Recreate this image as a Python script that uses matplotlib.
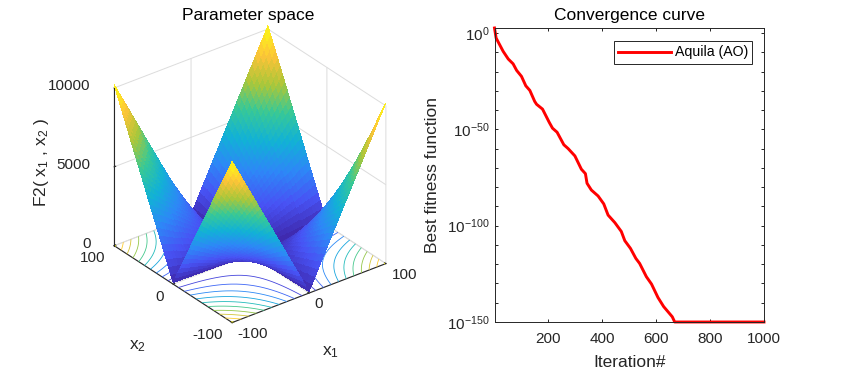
import numpy as np
import matplotlib
matplotlib.use("Agg")
import matplotlib.pyplot as plt
from matplotlib.colors import LinearSegmentedColormap
from mpl_toolkits.mplot3d import Axes3D  # noqa: F401

# Surface heights on one quadrant: |x1|, |x2| = 0, 4, ..., 100 (the other quadrants mirror it)
quadrant_axis = [0, 4, 8, 12, 16, 20, 24, 28, 32, 36, 40, 44, 48, 52, 56, 60, 64, 68, 72, 76, 80, 84, 88, 92, 96, 100]
quadrant_z = [
    [0, 4, 8, 12, 16, 20, 24, 28, 32, 36, 40, 44, 48, 52, 56, 60, 64, 68, 72, 76, 80, 84, 88, 92, 96, 100],
    [4, 24, 44, 64, 84, 104, 124, 144, 164, 184, 204, 224, 244, 264, 284, 304, 324, 344, 364, 384, 404, 424, 444, 464, 484, 504],
    [8, 44, 80, 116, 152, 188, 224, 260, 296, 332, 368, 404, 440, 476, 512, 548, 584, 620, 656, 692, 728, 764, 800, 836, 872, 908],
    [12, 64, 116, 168, 220, 272, 324, 376, 428, 480, 532, 584, 636, 688, 740, 792, 844, 896, 948, 1000, 1052, 1104, 1156, 1208, 1260, 1312],
    [16, 84, 152, 220, 288, 356, 424, 492, 560, 628, 696, 764, 832, 900, 968, 1036, 1104, 1172, 1240, 1308, 1376, 1444, 1512, 1580, 1648, 1716],
    [20, 104, 188, 272, 356, 440, 524, 608, 692, 776, 860, 944, 1028, 1112, 1196, 1280, 1364, 1448, 1532, 1616, 1700, 1784, 1868, 1952, 2036, 2120],
    [24, 124, 224, 324, 424, 524, 624, 724, 824, 924, 1024, 1124, 1224, 1324, 1424, 1524, 1624, 1724, 1824, 1924, 2024, 2124, 2224, 2324, 2424, 2524],
    [28, 144, 260, 376, 492, 608, 724, 840, 956, 1072, 1188, 1304, 1420, 1536, 1652, 1768, 1884, 2000, 2116, 2232, 2348, 2464, 2580, 2696, 2812, 2928],
    [32, 164, 296, 428, 560, 692, 824, 956, 1088, 1220, 1352, 1484, 1616, 1748, 1880, 2012, 2144, 2276, 2408, 2540, 2672, 2804, 2936, 3068, 3200, 3332],
    [36, 184, 332, 480, 628, 776, 924, 1072, 1220, 1368, 1516, 1664, 1812, 1960, 2108, 2256, 2404, 2552, 2700, 2848, 2996, 3144, 3292, 3440, 3588, 3736],
    [40, 204, 368, 532, 696, 860, 1024, 1188, 1352, 1516, 1680, 1844, 2008, 2172, 2336, 2500, 2664, 2828, 2992, 3156, 3320, 3484, 3648, 3812, 3976, 4140],
    [44, 224, 404, 584, 764, 944, 1124, 1304, 1484, 1664, 1844, 2024, 2204, 2384, 2564, 2744, 2924, 3104, 3284, 3464, 3644, 3824, 4004, 4184, 4364, 4544],
    [48, 244, 440, 636, 832, 1028, 1224, 1420, 1616, 1812, 2008, 2204, 2400, 2596, 2792, 2988, 3184, 3380, 3576, 3772, 3968, 4164, 4360, 4556, 4752, 4948],
    [52, 264, 476, 688, 900, 1112, 1324, 1536, 1748, 1960, 2172, 2384, 2596, 2808, 3020, 3232, 3444, 3656, 3868, 4080, 4292, 4504, 4716, 4928, 5140, 5352],
    [56, 284, 512, 740, 968, 1196, 1424, 1652, 1880, 2108, 2336, 2564, 2792, 3020, 3248, 3476, 3704, 3932, 4160, 4388, 4616, 4844, 5072, 5300, 5528, 5756],
    [60, 304, 548, 792, 1036, 1280, 1524, 1768, 2012, 2256, 2500, 2744, 2988, 3232, 3476, 3720, 3964, 4208, 4452, 4696, 4940, 5184, 5428, 5672, 5916, 6160],
    [64, 324, 584, 844, 1104, 1364, 1624, 1884, 2144, 2404, 2664, 2924, 3184, 3444, 3704, 3964, 4224, 4484, 4744, 5004, 5264, 5524, 5784, 6044, 6304, 6564],
    [68, 344, 620, 896, 1172, 1448, 1724, 2000, 2276, 2552, 2828, 3104, 3380, 3656, 3932, 4208, 4484, 4760, 5036, 5312, 5588, 5864, 6140, 6416, 6692, 6968],
    [72, 364, 656, 948, 1240, 1532, 1824, 2116, 2408, 2700, 2992, 3284, 3576, 3868, 4160, 4452, 4744, 5036, 5328, 5620, 5912, 6204, 6496, 6788, 7080, 7372],
    [76, 384, 692, 1000, 1308, 1616, 1924, 2232, 2540, 2848, 3156, 3464, 3772, 4080, 4388, 4696, 5004, 5312, 5620, 5928, 6236, 6544, 6852, 7160, 7468, 7776],
    [80, 404, 728, 1052, 1376, 1700, 2024, 2348, 2672, 2996, 3320, 3644, 3968, 4292, 4616, 4940, 5264, 5588, 5912, 6236, 6560, 6884, 7208, 7532, 7856, 8180],
    [84, 424, 764, 1104, 1444, 1784, 2124, 2464, 2804, 3144, 3484, 3824, 4164, 4504, 4844, 5184, 5524, 5864, 6204, 6544, 6884, 7224, 7564, 7904, 8244, 8584],
    [88, 444, 800, 1156, 1512, 1868, 2224, 2580, 2936, 3292, 3648, 4004, 4360, 4716, 5072, 5428, 5784, 6140, 6496, 6852, 7208, 7564, 7920, 8276, 8632, 8988],
    [92, 464, 836, 1208, 1580, 1952, 2324, 2696, 3068, 3440, 3812, 4184, 4556, 4928, 5300, 5672, 6044, 6416, 6788, 7160, 7532, 7904, 8276, 8648, 9020, 9392],
    [96, 484, 872, 1260, 1648, 2036, 2424, 2812, 3200, 3588, 3976, 4364, 4752, 5140, 5528, 5916, 6304, 6692, 7080, 7468, 7856, 8244, 8632, 9020, 9408, 9796],
    [100, 504, 908, 1312, 1716, 2120, 2524, 2928, 3332, 3736, 4140, 4544, 4948, 5352, 5756, 6160, 6564, 6968, 7372, 7776, 8180, 8584, 8988, 9392, 9796, 10200],
]
contour_levels = [1000, 2000, 3000, 4000, 5000, 6000, 7000, 8000, 9000, 10000]
xy_ticks = [-100, 0, 100]
z_ticks = [0, 5000, 10000]

# Convergence curve
iterations = [1, 7, 33, 52, 70, 83, 101, 117, 132, 150, 157, 179, 204, 216, 233, 258, 274, 299, 323, 338,
              344, 360, 385, 406, 422, 447, 471, 484, 505, 525, 539, 564, 583, 607, 628, 660, 669, 1000]
log10_fitness = [2.6, -2.6, -9.5, -13.5, -16, -19.4, -22.5, -27.4, -29.8, -35.5, -37, -39.5, -46.4, -49.4,
                 -51.5, -58, -60, -63.8, -70.7, -73, -78, -81.5, -84.6, -88.7, -94.5, -98.4, -103, -107.8,
                 -111.8, -117, -119.6, -126.5, -130.3, -137.3, -142, -147.3, -150, -150]
iter_ticks = [200, 400, 600, 800, 1000]
fit_ticks = [1e0, 1e-50, 1e-100, 1e-150]
series_label = "Aquila (AO)"

plt.rcParams["font.family"] = ["Liberation Sans", "DejaVu Sans"]
plt.rcParams["mathtext.fontset"] = "custom"
plt.rcParams["mathtext.rm"] = "Liberation Sans"
plt.rcParams["mathtext.default"] = "regular"
plt.rcParams["axes.unicode_minus"] = False
FS = 11
FL = 12.5
TXT = "#262626"

parula = LinearSegmentedColormap.from_list("parula", [
    (0.2422, 0.1504, 0.6603), (0.2810, 0.3228, 0.9579), (0.1786, 0.5289, 0.9682),
    (0.0689, 0.6948, 0.8394), (0.2161, 0.7843, 0.5923), (0.6720, 0.7793, 0.2227),
    (0.9970, 0.7659, 0.2199), (0.9769, 0.9839, 0.0805)], N=256)

W, H = 867, 371
fig = plt.figure(figsize=(W / 100, H / 100), dpi=100, facecolor="white")

# ---------- left panel ----------
half = np.array(quadrant_axis, dtype=float)
axis_full = np.concatenate([-half[:0:-1], half])
Zq = np.array(quadrant_z, dtype=float)
Z = np.vstack([Zq[:0:-1], Zq])
Z = np.hstack([Z[:, :0:-1], Z])
X, Y = np.meshgrid(axis_full, axis_full)

ax = fig.add_axes([0.0426, 0.0127, 0.48, 1.0], projection="3d", proj_type="ortho", computed_zorder=False)
ax.set_facecolor("none")
ax.view_init(elev=30, azim=-127.5)
ax.set_box_aspect((1, 1, 0.94), zoom=0.861)
ax.set_xlim(-100, 100)
ax.set_ylim(-100, 100)
ax.set_zlim(0, 10000)
ax.contour(X, Y, Z, levels=contour_levels, zdir="z", offset=0, cmap=parula, vmin=0, vmax=10200,
           linewidths=0.6, zorder=1)
surf = ax.plot_surface(X, Y, Z, rstride=1, cstride=1, cmap=parula, vmin=0, vmax=10200, shade=False,
                       linewidth=0, antialiased=False, zorder=2)
ax.set_xticks(xy_ticks)
ax.set_yticks(xy_ticks)
ax.set_zticks(z_ticks)
for a in (ax.xaxis, ax.yaxis, ax.zaxis):
    a.set_pane_color((1, 1, 1, 0))
    a._axinfo["grid"].update(color="#dcdcdc", linewidth=0.7)
    a._axinfo["tick"].update(inward_factor=0.0, outward_factor=0.12)
    a.line.set_color("#262626")
    a.line.set_linewidth(0.8)
ax.tick_params(labelsize=FS, colors=TXT)
ax.tick_params(axis="x", pad=-1.5)
ax.tick_params(axis="y", pad=0)
ax.tick_params(axis="z", pad=4)
for t in ax.xaxis.get_major_ticks():
    t.label1.set_ha("left")
    t.label1.set_va("center")
for t in ax.yaxis.get_major_ticks():
    t.label1.set_ha("right")
    t.label1.set_va("center")
for t in ax.zaxis.get_major_ticks():
    t.label1.set_ha("right")
    t.label1.set_va("center")
ax.xaxis.set_rotate_label(False)
ax.yaxis.set_rotate_label(False)
ax.zaxis.set_rotate_label(False)
ax.xaxis._axinfo["label"]["ha"] = "right"
ax.yaxis._axinfo["label"]["ha"] = "left"
ax.set_xlabel("x$_1$", fontsize=FL, color=TXT, labelpad=14, rotation=0)
ax.set_ylabel("x$_2$", fontsize=FL, color=TXT, labelpad=19, rotation=0)
ax.set_zlabel("F2( x$_1$ , x$_2$ )", fontsize=FL, color=TXT, labelpad=16, rotation=90)
fig.text(248 / W, 1 - 15.5 / H, "Parameter space", fontsize=FL, color="black", ha="center", va="center")

# ---------- right panel ----------
bx = fig.add_axes([494.5 / W, 1 - 322 / H, 269.5 / W, 294 / H])
bx.semilogy(iterations, 10.0 ** np.array(log10_fitness), color="red", lw=2.1, label=series_label,
            solid_joinstyle="round", clip_on=False)
bx.set_xlim(1, 1000)
bx.set_ylim(1e-150, 10 ** 2.6)
bx.set_xticks(iter_ticks)
bx.set_yticks(fit_ticks)
bx.set_yticks([10.0 ** -e for e in range(0, 151, 10) if e % 50], minor=True)
bx.set_yticklabels([], minor=True)
bx.tick_params(which="both", direction="in", top=True, right=True, length=2.5, width=0.6,
               labelsize=FS, labelcolor=TXT)
bx.tick_params(axis="x", pad=7.5)
for s in bx.spines.values():
    s.set_linewidth(0.7)
    s.set_color("#262626")
bx.set_xlabel("Iteration#", fontsize=FL, color=TXT, labelpad=6.5)
bx.set_ylabel("Best fitness function", fontsize=FL, color=TXT, labelpad=5)
bx.set_title("Convergence curve", fontsize=FL, color="black", pad=5.5)
leg = bx.legend(loc="upper right", bbox_to_anchor=(0.957, 0.955), fontsize=10.2, frameon=True, fancybox=False,
                edgecolor="#262626", framealpha=1, borderaxespad=0, handlelength=3.7, handletextpad=0.3,
                borderpad=0.3)
leg.get_frame().set_linewidth(0.7)

fig.savefig("out.png", dpi=100, facecolor="white")
